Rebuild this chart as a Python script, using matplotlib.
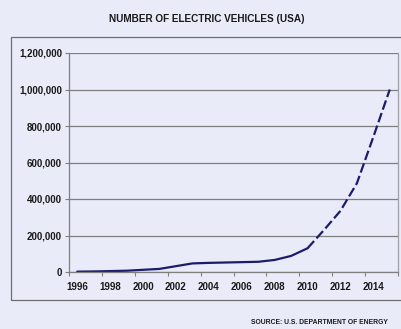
import matplotlib
matplotlib.use("Agg")
import matplotlib.pyplot as plt
from matplotlib.patches import Rectangle
from matplotlib.ticker import FuncFormatter, FixedLocator

years = list(range(1996, 2016))
vehicles = [2000, 3000, 5000, 7000, 12000, 17000, 32000, 47000, 50000, 52000,
            54000, 56000, 66000, 88000, 130000, 230000, 335000, 486000, 740000, 1000000]
actual_until = 2010
title = "NUMBER OF ELECTRIC VEHICLES (USA)"
source = "SOURCE: U.S. DEPARTMENT OF ENERGY"
yticks = [0, 200000, 400000, 600000, 800000, 1000000, 1200000]
xlabels = [1996, 1998, 2000, 2002, 2004, 2006, 2008, 2010, 2012, 2014]

plt.rcParams['font.family'] = ['Liberation Sans', 'DejaVu Sans']
bg = '#e9ebf8'
line_c = '#1c1c6b'
grid_c = '#7f7f7f'
text_c = '#1a1a1a'

fig = plt.figure(figsize=(4.02, 3.29), dpi=100, facecolor=bg)
W, H = 402, 329
fig.patches.append(Rectangle((11 / W, (H - 300) / H), 392 / W, 263 / H,
                             transform=fig.transFigure, fill=False,
                             edgecolor='#6e6e6e', linewidth=0.9))

ax = fig.add_axes([69 / W, (H - 272) / H, 329 / W, 219 / H])
ax.set_facecolor(bg)

idx = years.index(actual_until)
ax.plot(years[:idx + 1], vehicles[:idx + 1], color=line_c, lw=1.6,
        solid_capstyle='round', solid_joinstyle='round')
ax.plot(years[idx:], vehicles[idx:], color=line_c, lw=1.6,
        linestyle=(0, (4.4, 1.6)), dash_capstyle='butt')

ax.set_xlim(1995.5, 2015.5)
ax.set_ylim(0, 1200000)
ax.yaxis.set_major_locator(FixedLocator(yticks))
ax.yaxis.set_major_formatter(FuncFormatter(lambda v, p: f"{int(v):,}"))
ax.set_xticks([y - 0.5 for y in xlabels] + [2015.5])
ax.set_xticklabels([])
for y in xlabels:
    ax.text(y, -0.045, str(y), transform=ax.get_xaxis_transform(),
            ha='center', va='top', fontsize=7, fontweight='bold', color=text_c)

ax.grid(axis='y', color=grid_c, linewidth=0.9)
ax.set_axisbelow(True)
for s in ['left', 'bottom']:
    ax.spines[s].set_color(grid_c)
    ax.spines[s].set_linewidth(0.9)
ax.spines['top'].set_visible(False)
ax.spines['right'].set_color('#a0a0a8')
ax.spines['right'].set_linewidth(0.9)
ax.tick_params(axis='y', length=3, width=0.8, color=grid_c, pad=2,
               labelsize=7, labelcolor=text_c)
ax.tick_params(axis='x', length=3, width=0.8, color=grid_c, pad=2)
for lab in ax.get_yticklabels():
    lab.set_fontweight('bold')

fig.text(207 / W, 1 - 19 / H, title, ha='center', va='center',
         fontsize=7.2, fontweight='bold', color=text_c)
fig.text(388 / W, 1 - 322.5 / H, source, ha='right', va='center',
         fontsize=4.9, fontweight='bold', color=text_c)

fig.savefig('out.png', dpi=100, facecolor=bg)
